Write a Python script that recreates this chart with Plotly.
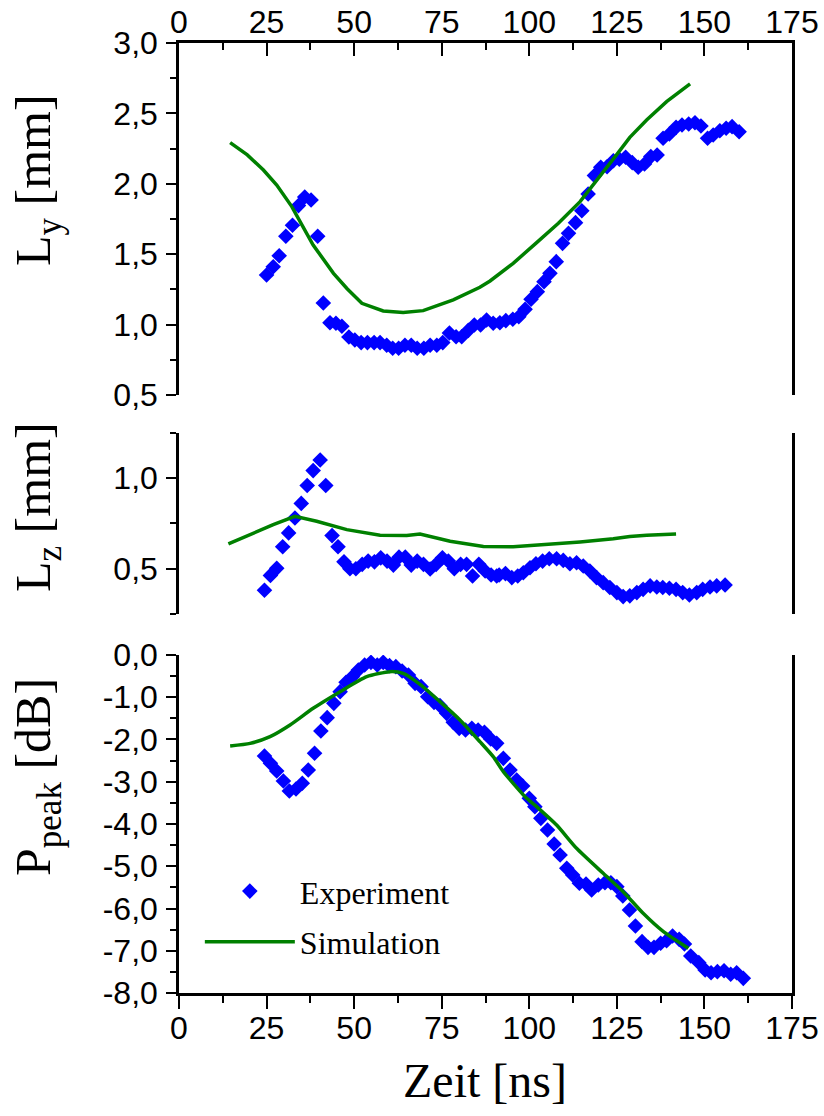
import plotly.graph_objects as go

# ---------------- data ----------------
# Top panel: L_y [mm]
t_ly_exp = [25.0, 26.9, 28.6, 30.5, 32.4, 34.1, 35.9, 37.7, 39.6, 41.2, 43.1, 44.8, 46.5, 48.5,
            50.2, 52.0, 53.8, 55.7, 57.4, 59.3, 61.0, 62.7, 64.5, 66.3, 68.0, 69.9, 71.7, 73.6,
            75.3, 77.2, 79.1, 80.7, 82.6, 84.3, 86.1, 87.8, 89.7, 91.6, 93.3, 95.3, 97.0, 98.8,
            100.5, 102.3, 104.2, 105.9, 107.7, 109.5, 111.2, 113.2, 115.0, 116.8, 118.6, 120.4,
            122.2, 124.0, 125.7, 127.5, 129.4, 131.1, 132.9, 134.7, 136.5, 138.2, 140.0, 141.9,
            143.6, 145.5, 147.3, 149.0, 150.9, 152.5, 154.4, 156.2, 157.9, 159.9]
ly_exp = [1.352, 1.411, 1.489, 1.627, 1.705, 1.845, 1.906, 1.885, 1.627, 1.153, 1.013, 1.009, 0.988, 0.912,
          0.891, 0.872, 0.872, 0.872, 0.872, 0.853, 0.832, 0.832, 0.853, 0.853, 0.832, 0.832, 0.853, 0.853,
          0.872, 0.940, 0.914, 0.914, 0.959, 0.997, 0.997, 1.033, 1.009, 1.013, 1.028, 1.038, 1.056, 1.108,
          1.180, 1.234, 1.305, 1.364, 1.447, 1.577, 1.648, 1.724, 1.809, 1.928, 2.058, 2.117,
          2.121, 2.164, 2.174, 2.188, 2.150, 2.117, 2.141, 2.193, 2.205, 2.323, 2.354, 2.401,
          2.418, 2.425, 2.434, 2.411, 2.323, 2.347, 2.377, 2.394, 2.406, 2.370]
t_ly_sim = [14.6, 19.5, 24.1, 27.9, 32.2, 38.3, 44.1, 48.0, 52.2, 58.3, 64.0, 69.7, 78.3, 85.9,
            88.8, 95.4, 102.1, 108.3, 114.5, 120.2, 124.9, 128.7, 133.5, 139.2, 145.9]
ly_sim = [2.292, 2.205, 2.098, 1.991, 1.838, 1.565, 1.364, 1.255, 1.151, 1.097, 1.085, 1.099, 1.175, 1.265,
          1.310, 1.435, 1.582, 1.719, 1.873, 2.050, 2.205, 2.330, 2.453, 2.583, 2.709]

# Middle panel: L_z [mm]
t_lz_exp = [24.4, 26.1, 27.9, 29.6, 31.3, 33.1, 34.9, 36.6, 38.3, 40.3, 41.9, 43.7, 45.4, 47.1,
            48.8, 50.5, 52.3, 54.0, 55.8, 57.6, 59.4, 61.2, 62.8, 64.6, 66.3, 68.0, 69.8, 71.7,
            73.4, 75.2, 76.9, 78.6, 80.4, 82.1, 83.8, 85.6, 87.4, 89.1, 90.7, 91.4, 93.2, 95.0,
            96.7, 98.3, 100.2, 101.9, 103.8, 105.7, 107.8, 109.7, 111.6, 113.5, 115.4, 117.3,
            119.2, 121.1, 123.0, 125.0, 126.8, 128.7, 130.7, 132.5, 134.5, 136.4, 138.1, 140.0,
            141.9, 143.8, 145.7, 147.8, 149.5, 151.6, 153.5, 155.9]
lz_exp = [0.381, 0.463, 0.502, 0.621, 0.698, 0.780, 0.861, 0.960, 1.042, 1.101, 0.960, 0.683, 0.621, 0.538,
          0.500, 0.500, 0.524, 0.542, 0.538, 0.560, 0.542, 0.520, 0.564, 0.564, 0.520, 0.542, 0.524, 0.498,
          0.524, 0.560, 0.542, 0.500, 0.524, 0.524, 0.460, 0.524, 0.487, 0.465, 0.460, 0.465, 0.473, 0.451,
          0.460, 0.478, 0.505, 0.527, 0.542, 0.555, 0.555, 0.546, 0.527, 0.533, 0.515, 0.487,
          0.451, 0.423, 0.396, 0.368, 0.346, 0.350, 0.368, 0.386, 0.405, 0.399, 0.396, 0.392,
          0.386, 0.368, 0.355, 0.368, 0.386, 0.399, 0.405, 0.410]
t_lz_sim = [14.1, 20.3, 26.9, 33.1, 39.3, 47.9, 57.4, 65.0, 68.8, 77.4, 86.9, 95.4, 105.0, 114.5,
            124.0, 128.7, 133.5, 141.9]
lz_sim = [0.637, 0.689, 0.743, 0.789, 0.762, 0.716, 0.685, 0.683, 0.692, 0.652, 0.623, 0.621, 0.634, 0.648,
          0.665, 0.678, 0.685, 0.692]

# Bottom panel: P_peak [dB]
t_p_exp = [24.4, 26.1, 27.9, 29.8, 31.5, 33.4, 35.2, 36.9, 38.7, 40.5, 42.3, 44.2, 46.0, 47.7,
           49.5, 51.2, 53.0, 54.8, 56.6, 58.3, 60.1, 61.9, 63.7, 65.5, 67.4, 69.1, 71.0, 72.8,
           74.5, 76.4, 78.3, 80.0, 81.8, 83.6, 85.4, 87.2, 89.0, 90.7, 92.6, 94.5, 96.4, 98.1,
           100.0, 101.6, 103.3, 105.2, 107.1, 108.8, 110.7, 112.4, 114.3, 116.2, 117.8, 119.7,
           121.6, 123.3, 125.0, 126.7, 128.6, 130.3, 132.2, 133.9, 135.6, 137.5, 139.2, 140.9,
           142.8, 144.3, 146.1, 148.4, 150.2, 151.9, 153.7, 155.6, 157.5, 159.2, 161.1]
p_exp = [-2.391, -2.564, -2.746, -2.982, -3.219, -3.172, -3.037, -2.722, -2.327, -1.799, -1.483, -1.144, -0.868, -0.647,
         -0.513, -0.355, -0.237, -0.174, -0.237, -0.174, -0.252, -0.276, -0.379, -0.473, -0.671, -0.749, -0.986, -1.121,
         -1.199, -1.381, -1.594, -1.736, -1.775, -1.736, -1.775, -1.831, -1.988, -2.091, -2.446, -2.722, -2.959, -3.101,
         -3.393, -3.590, -3.866, -4.142, -4.473, -4.734, -5.049, -5.207, -5.404, -5.420, -5.562, -5.444,
         -5.389, -5.389, -5.483, -5.704, -6.036, -6.414, -6.785, -6.919, -6.919, -6.824, -6.761, -6.651,
         -6.730, -6.840, -7.124, -7.282, -7.456, -7.519, -7.495, -7.472, -7.558, -7.519, -7.653]
t_p_sim = [14.6, 20.3, 26.0, 31.7, 38.3, 46.0, 53.6, 60.2, 64.0, 68.8, 74.5, 80.2, 85.9, 89.7,
           92.6, 95.4, 98.8, 102.1, 107.8, 113.5, 121.1, 126.8, 132.5, 138.3, 145.4]
p_sim = [-2.154, -2.091, -1.933, -1.657, -1.262, -0.868, -0.513, -0.394, -0.434, -0.694, -1.104, -1.538, -2.051, -2.406,
         -2.761, -3.037, -3.353, -3.590, -4.024, -4.576, -5.168, -5.601, -6.114, -6.549, -6.943]

# ticks
x_tickvals = [0, 25, 50, 75, 100, 125, 150, 175]
x_ticktext = ["0", "25", "50", "75", "100", "125", "150", "175"]
ly_tickvals = [0.5, 1.0, 1.5, 2.0, 2.5, 3.0]
ly_ticktext = ["0,5", "1,0", "1,5", "2,0", "2,5", "3,0"]
lz_tickvals = [0.5, 1.0]
lz_ticktext = ["0,5", "1,0"]
p_tickvals = [0, -1, -2, -3, -4, -5, -6, -7, -8]
p_ticktext = ["0,0", "-1,0", "-2,0", "-3,0", "-4,0", "-5,0", "-6,0", "-7,0", "-8,0"]

# ---------------- styling ----------------
BLUE = "#0000FF"
GREEN = "#008000"
SANS = "Liberation Sans, Arial, sans-serif"
SERIF = "Liberation Serif, Times New Roman, serif"
TICKFONT = dict(family=SANS, size=32, color="black")

fig = go.Figure()

mk = dict(symbol="diamond", size=12, color=BLUE)
ln = dict(color=GREEN, width=3.5)

fig.add_trace(go.Scatter(x=t_ly_exp, y=ly_exp, mode="markers", marker=mk, xaxis="x", yaxis="y",
                         showlegend=False))
fig.add_trace(go.Scatter(x=t_ly_sim, y=ly_sim, mode="lines", line=ln, xaxis="x", yaxis="y",
                         showlegend=False))
fig.add_trace(go.Scatter(x=t_lz_exp, y=lz_exp, mode="markers", marker=mk, xaxis="x2", yaxis="y2",
                         showlegend=False))
fig.add_trace(go.Scatter(x=t_lz_sim, y=lz_sim, mode="lines", line=ln, xaxis="x2", yaxis="y2",
                         showlegend=False))
fig.add_trace(go.Scatter(x=t_p_exp, y=p_exp, mode="markers", marker=mk, xaxis="x3", yaxis="y3",
                         name="Experiment", legendgroup="a"))
fig.add_trace(go.Scatter(x=t_p_sim, y=p_sim, mode="lines",
                         line=dict(color=GREEN, width=3.5, shape="spline", smoothing=0.6),
                         xaxis="x3", yaxis="y3", name="Simulation", legendgroup="b"))

axis_common = dict(showgrid=False, zeroline=False, showline=True, linecolor="black", linewidth=2.5,
                   tickcolor="black", tickwidth=2, tickfont=TICKFONT, automargin=False)

yaxis_common = dict(axis_common, ticks="outside", ticklen=10, mirror=True, tickmode="array",
                    ticklabelstandoff=2)

fig.update_layout(
    width=824, height=1116, autosize=False,
    margin=dict(l=179, r=32, t=43, b=123, autoexpand=False),
    paper_bgcolor="white", plot_bgcolor="white",
    xaxis=dict(axis_common, domain=[0, 1], anchor="y", side="top", range=[0, 175],
               tickmode="array", tickvals=x_tickvals, ticktext=x_ticktext,
               ticks="inside", ticklen=13, ticklabelstandoff=-6,
               minor=dict(ticks="inside", ticklen=7, dtick=12.5, tick0=0, tickcolor="black", tickwidth=2)),
    yaxis=dict(yaxis_common, domain=[0.6295, 1.0], anchor="x", range=[0.5, 3.0],
               tickvals=ly_tickvals, ticktext=ly_ticktext,
               minor=dict(ticks="outside", ticklen=6, dtick=0.25, tick0=0, tickcolor="black", tickwidth=2)),
    xaxis2=dict(domain=[0, 1], anchor="y2", range=[0, 175], visible=False, showgrid=False,
                zeroline=False, automargin=False),
    yaxis2=dict(yaxis_common, domain=[0.399, 0.5895], anchor="x2", range=[0.25, 1.25],
                tickvals=lz_tickvals, ticktext=lz_ticktext,
                minor=dict(ticks="outside", ticklen=6, dtick=0.25, tick0=0, tickcolor="black", tickwidth=2)),
    xaxis3=dict(axis_common, domain=[0, 1], anchor="y3", side="bottom", range=[0, 175],
                tickmode="array", tickvals=x_tickvals, ticktext=x_ticktext,
                ticks="outside", ticklen=13, ticklabelstandoff=-8,
                minor=dict(ticks="outside", ticklen=7, dtick=12.5, tick0=0, tickcolor="black", tickwidth=2)),
    yaxis3=dict(yaxis_common, domain=[0, 0.3558], anchor="x3", range=[-8, 0],
                tickvals=p_tickvals, ticktext=p_ticktext,
                minor=dict(ticks="outside", ticklen=6, dtick=0.5, tick0=0, tickcolor="black", tickwidth=2)),
    legend=dict(x=0.034, y=0.136, xanchor="left", yanchor="top", bgcolor="rgba(0,0,0,0)",
                font=dict(family=SERIF, size=32, color="black"), tracegroupgap=6,
                itemwidth=90),
    showlegend=True,
)

titles = [
    ("L<sub>y</sub> [mm]", 37, 180),
    ("L<sub>z</sub> [mm]", 37, 507),
    ("P<sub>peak</sub> [dB]", 37, 777),
]
for txt, px, py in titles:
    fig.add_annotation(text=txt, xref="paper", yref="paper",
                       x=(px - 179) / 613, y=(993 - py) / 950,
                       xanchor="center", yanchor="middle", textangle=-90, showarrow=False,
                       font=dict(family=SERIF, size=50, color="black"))

fig.add_annotation(text="Zeit [ns]", xref="paper", yref="paper",
                   x=(485 - 179) / 613, y=(993 - 1080) / 950,
                   xanchor="center", yanchor="middle", showarrow=False,
                   font=dict(family=SERIF, size=48, color="black"))

fig.write_html("out.html", config={"displayModeBar": False},
               post_script="document.body.style.margin='0';document.body.style.padding='0';")
